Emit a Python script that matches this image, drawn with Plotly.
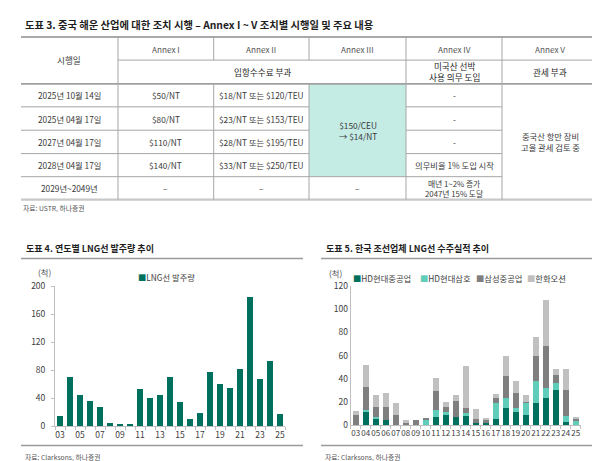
import plotly.graph_objects as go

W, H = 600, 461
FONT = "Noto Sans CJK KR, Noto Sans, sans-serif"

# ---------------- Table data ----------------
table_title = "도표 3. 중국 해운 산업에 대한 조치 시행 – Annex I ~ V 조치별 시행일 및 주요 내용"
header_first = "시행일"
header_cols = ["Annex I", "Annex II", "Annex III", "Annex IV", "Annex V"]
header_sub = ["입항수수료 부과", "미국산 선박<br>사용 의무 도입", "관세 부과"]
dates = ["2025년 10월 14일", "2025년 04월 17일", "2027년 04월 17일", "2028년 04월 17일", "2029년~2049년"]
annex1 = ["$50/NT", "$80/NT", "$110/NT", "$140/NT", "–"]
annex2 = ["$18/NT 또는 $120/TEU", "$23/NT 또는 $153/TEU", "$28/NT 또는 $195/TEU", "$33/NT 또는 $250/TEU", "–"]
annex3 = ["$150/CEU<br>→ $14/NT", "–"]
annex4 = ["-", "-", "-", "의무비율 1% 도입 시작", "매년 1~2% 증가<br>2047년 15% 도달"]
annex5 = "중국산 항만 장비<br>고율 관세 검토 중"
table_source = "자료: USTR, 하나증권"

# ---------------- Chart data ----------------
years = ["03", "04", "05", "06", "07", "08", "09", "10", "11", "12", "13", "14",
         "15", "16", "17", "18", "19", "20", "21", "22", "23", "24", "25"]
lng_orders = [15, 71, 45, 36, 27, 5, 4, 4, 53, 40, 44, 70, 35, 10, 19, 77, 61, 54, 82, 184, 68, 93, 18]
left_title = "도표 4. 연도별 LNG선 발주량 추이"
left_series = "LNG선 발주량"

right_title = "도표 5. 한국 조선업체 LNG선 수주실적 추이"
builders = ["HD현대중공업", "HD현대삼호", "삼성중공업", "한화오션"]
hhi = [0, 12, 5, 4, 0, 0, 0, 0, 7, 9, 7, 8, 2, 2, 5, 15, 11, 9, 19, 23, 30, 3, 0]
samho = [0, 1, 2, 0, 0, 0, 0, 4, 6, 2, 0, 2, 0, 0, 14, 8, 4, 10, 19, 9, 6, 5, 4]
samsung = [9, 20, 9, 12, 9, 2, 4, 2, 16, 5, 14, 5, 3, 2, 4, 19, 13, 1, 22, 36, 7, 22, 1]
hanwha = [3, 19, 10, 12, 10, 2, 0, 0, 12, 4, 5, 36, 9, 2, 4, 18, 10, 6, 16, 40, 5, 18, 2]
chart_source = "자료: Clarksons, 하나증권"
unit = "(척)"

# ---------------- Styles ----------------
DARK_TEAL = "#00705E"
LIGHT_TEAL = "#5FCDB9"
DARK_GRAY = "#7F7F7F"
LIGHT_GRAY = "#C0C0C0"
CELL_FILL = "#C5EBE5"
TXT = "#3A3A3A"
LINE = "#A6A6A6"


def px(x):
    return x / W


def py(y):
    return 1 - y / H


def esc(s):
    return s.replace("$", "&#36;")


shapes = []
annotations = []


def hline(x0, x1, y, color=LINE, w=1):
    shapes.append(dict(type="line", xref="paper", yref="paper", x0=px(x0), x1=px(x1),
                       y0=py(y), y1=py(y), line=dict(color=color, width=w)))


def vline(x, y0, y1, color=LINE, w=1):
    shapes.append(dict(type="line", xref="paper", yref="paper", x0=px(x), x1=px(x),
                       y0=py(y0), y1=py(y1), line=dict(color=color, width=w)))


def text(x, y, s, size=8.5, color=TXT, bold=False, xanchor="center"):
    if bold:
        s = "<b>" + s + "</b>"
    annotations.append(dict(xref="paper", yref="paper", x=px(x), y=py(y), text=esc(s),
                            showarrow=False, xanchor=xanchor, yanchor="middle",
                            align="center", font=dict(size=size, color=color, family=FONT)))


# ---------------- Table drawing ----------------
cx = [13, 110, 205.7, 301, 398, 494, 590]
ry = [22.7, 46.3, 70.7, 94.3, 118.3, 142.3, 166, 189.5]
ccen = [(cx[i] + cx[i + 1]) / 2 for i in range(6)]
rcen = [(ry[i] + ry[i + 1]) / 2 for i in range(7)]

shapes.append(dict(type="rect", xref="paper", yref="paper", x0=px(cx[3]), x1=px(cx[4]),
                   y0=py(ry[2]), y1=py(ry[6]), fillcolor=CELL_FILL, line=dict(width=0), layer="below"))

hline(cx[0], cx[6], ry[0], "#8C8C8C", 1.5)
hline(cx[1], cx[6], ry[1])
hline(cx[0], cx[6], ry[2], "#A0A0A0", 1.8)
for r in (3, 4, 5):
    hline(cx[0], cx[3], ry[r])
    hline(cx[4], cx[5], ry[r])
hline(cx[0], cx[5], ry[6])
hline(cx[0], cx[6], ry[7], "#C8C8C8", 2.2)

vline(cx[1], ry[0], ry[7])
vline(cx[2], ry[0], ry[1])
vline(cx[2], ry[2], ry[7])
vline(cx[3], ry[0], ry[1])
vline(cx[3], ry[2], ry[7])
vline(cx[4], ry[0], ry[7])
vline(cx[5], ry[0], ry[7])

text(15, 10, table_title, size=10.3, color="#1E1E1E", bold=True, xanchor="left")
text(ccen[0], (ry[0] + ry[2]) / 2, header_first, size=8.6)
for i, h in enumerate(header_cols):
    text(ccen[i + 1], rcen[0], h, size=8.2, color="#555555")
text((cx[1] + cx[4]) / 2, rcen[1], header_sub[0], size=8.6, color="#262626")
text(ccen[4], rcen[1], header_sub[1], size=8.6, color="#262626")
text(ccen[5], rcen[1], header_sub[2], size=8.6, color="#262626")
for k in range(5):
    yc = rcen[k + 2]
    text(ccen[0], yc, dates[k], size=8.3)
    text(ccen[1], yc, annex1[k], size=8.3)
    text(ccen[2], yc, annex2[k], size=8.3)
    text(ccen[4], yc, annex4[k], size=8.3 if k < 4 else 7.8)
text(ccen[3], (ry[2] + ry[6]) / 2, annex3[0], size=8.3)
text(ccen[3], rcen[6], annex3[1], size=8.3)
text(ccen[5], (ry[2] + ry[7]) / 2, annex5, size=8.3)
text(13, 198, table_source, size=6.8, color="#555555", xanchor="left")

# ---------------- Chart frames ----------------
for (x0, x1, ttl) in ((13, 295, left_title), (313, 587, right_title)):
    text(x0 + 3, 240, ttl, size=9.0, color="#1E1E1E", bold=True, xanchor="left")
    hline(x0, x1, 250, "#9A9A9A", 1.6)
    hline(x0, x1, 442, "#9A9A9A", 1.6)
    text(x0 + 2, 454, chart_source, size=6.8, color="#555555", xanchor="left")

text(36, 264, unit, size=8.3, color="#555555")
text(327, 265, unit, size=8.3, color="#555555")

# legends (compact, as in the reference)
text(128, 269, "<span style='color:%s'>■</span>%s" % (DARK_TEAL, left_series),
     size=8.3, color="#404040", xanchor="left")
leg_colors = [DARK_TEAL, LIGHT_TEAL, DARK_GRAY, LIGHT_GRAY]
leg_x = [343, 410, 466, 517]
for name, col, lx in zip(builders, leg_colors, leg_x):
    text(lx, 270, "<span style='color:%s'>■</span>%s" % (col, name),
         size=8.3, color="#404040", xanchor="left")

# ---------------- Bars ----------------
xi = list(range(len(years)))
fig = go.Figure()
fig.add_trace(go.Bar(x=xi, y=lng_orders, name=left_series, marker=dict(color=DARK_TEAL, line=dict(width=0)),
                     width=0.55, xaxis="x", yaxis="y", showlegend=False))
for name, vals, col in zip(builders, [hhi, samho, samsung, hanwha], leg_colors):
    fig.add_trace(go.Bar(x=xi, y=vals, name=name, marker=dict(color=col, line=dict(width=0)),
                         width=0.58, xaxis="x2", yaxis="y2", showlegend=False))

axis_common = dict(showgrid=False, zeroline=False, showline=True, linecolor="#BFBFBF", linewidth=1,
                   fixedrange=True)
minor_ticks = dict(tickvals=[i - 0.5 for i in range(len(years) + 1)], ticks="outside", ticklen=3,
                   tickcolor="#BFBFBF", tickwidth=1, showgrid=False)
tf = dict(size=8.5, color="#404040", family=FONT)

fig.update_layout(
    width=W, height=H,
    margin=dict(l=0, r=0, t=0, b=0),
    paper_bgcolor="white", plot_bgcolor="white",
    font=dict(family=FONT, color=TXT),
    barmode="stack",
    showlegend=False,
    shapes=shapes,
    annotations=annotations,
    xaxis=dict(domain=[47 / W, 277 / W], anchor="y", range=[-0.5, len(years) - 0.5],
               tickmode="array", tickvals=xi[::2], ticktext=years[::2], ticks="", tickangle=0,
               tickfont=tf, minor=minor_ticks, **axis_common),
    yaxis=dict(domain=[py(422.3), py(278.3)], anchor="x", range=[0, 200],
               tickmode="array", tickvals=[0, 40, 80, 120, 160, 200], ticks="outside", ticklen=3,
               tickcolor="#BFBFBF", ticklabelstandoff=4, tickfont=tf, **axis_common),
    xaxis2=dict(domain=[342.7 / W, 572.7 / W], anchor="y2", range=[-0.5, len(years) - 0.5],
                tickmode="array", tickvals=xi, ticktext=years, ticks="", tickangle=0,
                tickfont=dict(size=8.0, color="#404040", family=FONT), minor=minor_ticks, **axis_common),
    yaxis2=dict(domain=[py(421), py(278.3)], anchor="x2", range=[0, 120],
                tickmode="array", tickvals=[0, 20, 40, 60, 80, 100, 120], ticks="", 
                tickfont=tf, **axis_common),
)

fig.write_html("out.html")
